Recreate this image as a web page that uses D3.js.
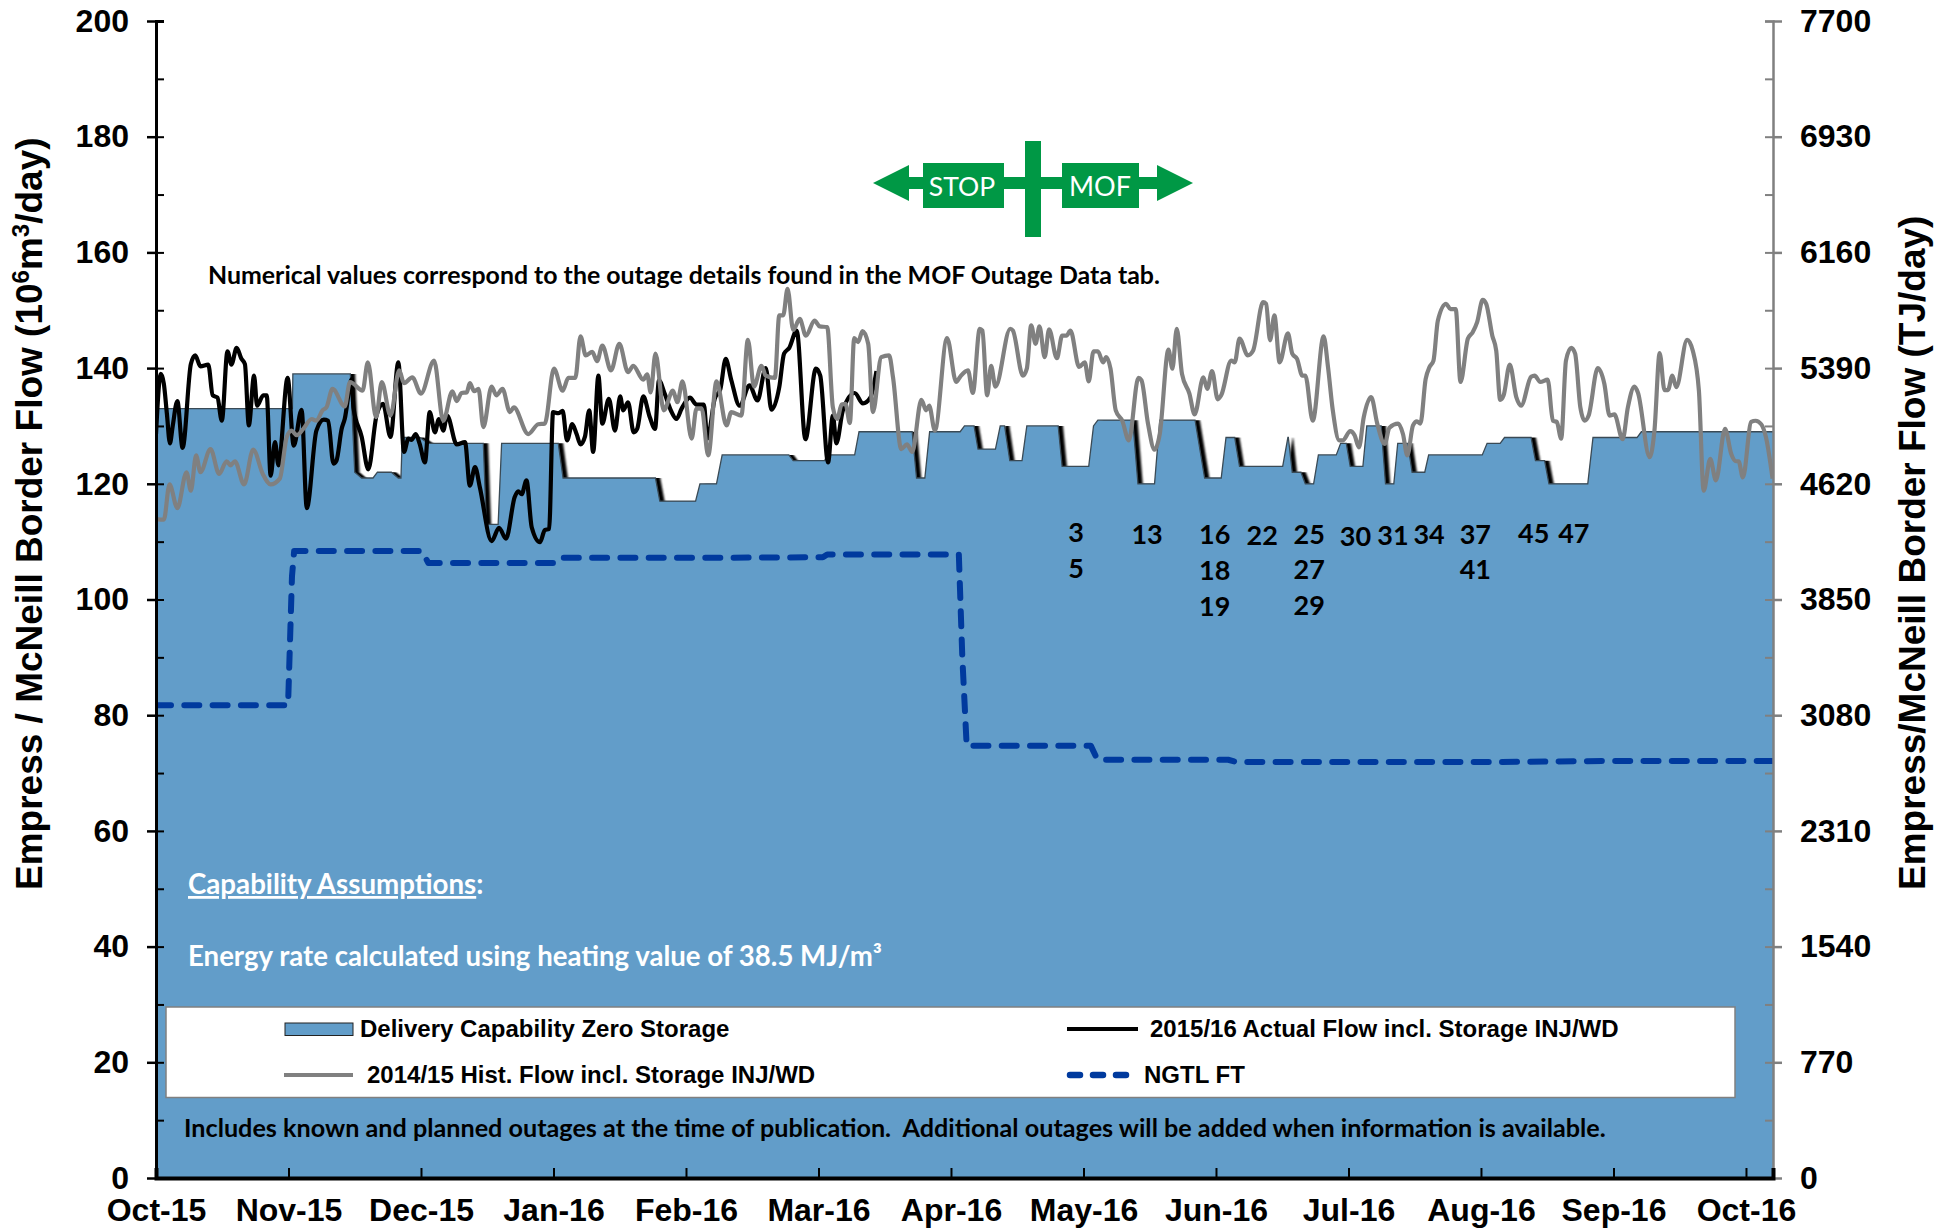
<!DOCTYPE html>
<html>
<head>
<meta charset="utf-8">
<title>Empress / McNeill Border Flow</title>
<script src="https://d3js.org/d3.v7.min.js"></script>
<style>
  body { margin: 0; background: #fff; }
  text { font-family: "Liberation Sans", Arial, sans-serif; font-weight: bold; fill: #000; }
  text.note { font-family: Lato, "Noto Sans", sans-serif; }
  .tick text { font-size: 32px; font-family: "Liberation Sans", Arial, sans-serif; font-weight: bold; fill: #000; }
</style>
</head>
<body>
<svg id="chart" width="1956" height="1228"></svg>
<script>
// all series are [day since Oct-15, 10^6 m3/day]
const monthLabels = ["Oct-15","Nov-15","Dec-15","Jan-16","Feb-16","Mar-16","Apr-16","May-16","Jun-16","Jul-16","Aug-16","Sep-16","Oct-16"];
const leftTicks = [0,20,40,60,80,100,120,140,160,180,200];
const leftMinorTicks = [0,10,20,30,40,50,60,70,80,90,100,110,120,130,140,150,160,170,180,190,200];
const rightTicks = [0,770,1540,2310,3080,3850,4620,5390,6160,6930,7700];
const rightMinorTicks = [0,385,770,1155,1540,1925,2310,2695,3080,3465,3850,4235,4620,5005,5390,5775,6160,6545,6930,7315,7700];

const capability = [[0,133],[31.3,133],[31.4,139],[44.6,139],[45.6,122],[47.2,121],[49.8,121],[50.8,122],[54,122],[55.6,121],[56.2,121],[56.5,128],[60.5,128],[62.5,127],[75.1,127],[75.8,113],[78.5,113],[79.3,127],[92.3,127],[93.4,121],[114.6,121],[115.6,117],[123.8,117],[124.8,120],[128.6,120],[129.9,125],[145.2,125],[146.2,124],[153.4,124],[154,125],[160.3,125],[161.3,129],[173.5,129],[174.5,121],[176.4,121],[177.5,129],[184.5,129],[185.5,130],[187.7,130],[188.6,126],[192.6,126],[193.7,130],[194.7,130],[195.9,124],[198.7,124],[199.8,130],[207,130],[207.9,123],[214,123],[215.1,130],[216.1,131],[224.1,131],[225.3,120],[229.1,120],[230.3,131],[238.4,131],[240.6,121],[244.4,121],[245.5,128],[247.5,128],[248.6,123],[258.5,123],[259.7,128],[259.8,128],[260.7,122],[262.7,122],[263.7,120],[265.6,120],[266.7,125],[270.8,125],[271.8,127],[273.1,127],[274,123],[276.9,123],[277.8,130],[281.1,130],[282.1,120],[284,120],[284.9,127],[287.2,127],[288.2,122],[291.1,122],[292,125],[304.3,125],[305.4,127],[308.4,127],[309.4,128],[315.5,128],[316.5,124],[318.6,124],[319.6,120],[328.5,120],[329.7,128],[339.8,128],[340.8,129],[371,129]];

const actualFlow = [[0,128.6],[1.1,139],[1.8,137.3],[2.5,132.1],[3.2,127],[3.8,129.8],[4.9,134.3],[6.1,126.2],[8,140.7],[9,142.2],[10.2,140.3],[12,140.6],[13,135.3],[14.1,134.9],[15.1,130.9],[16.4,142.9],[17.3,140.6],[18.5,143.5],[19.6,141.6],[20.4,140.7],[21.3,130.1],[22.5,138.7],[23.2,133.5],[24.6,135.3],[25.4,135.3],[26.3,121.4],[27.3,127.2],[28.1,123.2],[30.2,138.3],[31.6,126.6],[33.4,132.8],[34.6,115.8],[36.8,129.2],[38.5,131.1],[39.5,130.9],[40.7,123.5],[41.4,124],[42.6,129.5],[43.3,131.2],[44.9,138.1],[45.3,133.2],[47.2,128.1],[48.7,122.5],[50.6,131.8],[52.1,133.8],[53.8,128.1],[55.6,141],[56.9,125.5],[57.9,127.8],[58.6,127.6],[59.6,128.6],[60.5,126.9],[61.7,123.7],[62.8,132.4],[64,128.9],[64.9,131.2],[65.9,129.2],[66.8,131.8],[69,126.8],[70.9,127.2],[72,119.7],[73.2,122.9],[74.3,119.4],[77,110.1],[78.7,112.4],[80.3,110.5],[82.3,117.7],[83.1,118.7],[83.9,118.2],[85,120.6],[86.2,112.5],[88.1,109.9],[89.2,112],[90.2,112.2],[91.1,132.4],[92.3,132.2],[93.3,132.6],[94.3,127.5],[95.5,130.3],[96.5,128.6],[97.4,126.8],[98.4,128.1],[99.4,132.7],[100.3,125.5],[101.5,138.7],[102.4,130.4],[103.9,134.7],[105.3,129.2],[106.5,135.1],[107.2,132.7],[108.3,134.1],[109.6,128.9],[110.4,129.5],[111.8,135.1],[113.3,131.5],[114.5,129.5],[115.4,137.9],[116.7,135.6],[118.3,132.4],[119.4,131.2],[120.6,133],[122.5,134.9],[124,133.7],[125.7,133.7],[126.5,127.8],[128.2,134.7],[129.5,136.4],[130.7,141.6],[132,137.9],[133.9,133.5],[136.2,137],[138,134.4],[139.9,140],[141.2,132.8],[143,136.7],[144.1,142.5],[145.3,143.5],[147,146.5],[149,127.7],[151.4,139.9],[152.4,138.7],[154.2,123.7],[155.3,131.8],[156.1,127],[157.6,132.7],[160.3,135.7],[162.2,133.9],[163.9,134.9],[165.3,139.5]];

const histFlow = [[0,113.9],[1.8,113.8],[3.1,119.9],[4.9,115.8],[7,122],[8,118.8],[9.2,124.9],[10.2,122],[12.5,126],[14.5,121.7],[16.2,123.9],[17.1,123.2],[18.1,123.9],[20.2,119.9],[22.3,125.9],[24.5,121.7],[26.3,119.9],[28.4,120.9],[30,128.1],[31.1,129.2],[32.3,128.4],[33.8,129.5],[35.7,131.2],[36.8,130.9],[38.2,132.7],[39.1,133.2],[40.5,136.4],[43.3,133.4],[44.5,137.6],[47.4,136.1],[48.6,141],[50.5,131.5],[51.8,137.6],[53.8,131.8],[55.8,139.6],[56.9,137.4],[58.8,138.4],[60.8,135.6],[63.8,141.3],[65.9,130.9],[68,136],[69,134.3],[70.1,135.7],[71.3,135.8],[72,137.4],[73,136],[74,136.4],[75.1,129.8],[77,136.8],[78.1,135.3],[79.5,136.4],[81.2,132.4],[82.1,133.2],[85.4,128.6],[87.7,130.3],[89.2,130.4],[91.3,139.9],[93.3,136.1],[94.6,138.3],[96.2,138.3],[97.4,145.5],[98.6,142.2],[100.1,142.8],[101.2,141.2],[102.4,143.9],[104.4,139.6],[106.3,144.2],[108.3,139.3],[109.5,140.4],[111.8,138],[112.7,138.9],[113.5,135.8],[114.6,142.5],[116.5,132.7],[118.6,136.1],[119.6,134.1],[120.8,137.7],[122.9,127.8],[124,133],[125.2,133],[126.7,124.9],[128.6,137.7],[130.9,130.1],[132,132.4],[134.3,131.8],[135.8,144.9],[137.2,136.8],[138.9,140.4],[139.9,138.7],[142,138.3],[143,149.1],[143.9,149.1],[144.9,153.7],[146.2,146.6],[147.7,148.5],[149.1,145.6],[151.1,148.2],[152.3,147.2],[154,147.1],[155.3,133.2],[156.3,131.2],[157.3,133.7],[158.2,133.8],[159.2,130.5],[160.2,145.2],[161.1,144.5],[162.1,146.4],[163.4,144.2],[164.5,132.4],[166.4,141.9],[168.2,142.2],[169.1,138.4],[171,126],[172.3,126.8],[173.5,125.5],[175.6,134.5],[176.7,132.7],[177.4,133.5],[178.7,129.2],[181.5,145.2],[183.6,137.6],[184.5,138.5],[186.3,139.6],[187.4,135.7],[189,146.8],[189.6,146.5],[190.7,135.3],[191.6,140.4],[192.6,136.8],[196,146.8],[196.6,146.5],[198.9,138.7],[199.8,139.9],[200.8,147.4],[201.8,144.2],[202.7,147.2],[203.9,141.9],[204.9,146.7],[206.7,141.7],[207.9,145.6],[208.9,145.6],[209.8,146.5],[211.8,140.2],[213.1,141],[214,137.7],[215.1,142.9],[216.1,142.9],[217.3,141],[218,141.9],[219,139.9],[220.2,132.7],[221.7,130.9],[223.2,127.5],[225.4,138.3],[226.1,137.9],[227.6,130.4],[229.1,125.9],[230.3,128.6],[232.3,143.2],[233.2,139.9],[234.2,146.8],[235.4,139],[237.1,135.6],[238.3,132],[240.3,138.4],[241.2,136.4],[242.3,139.5],[243.6,134.6],[244.4,135.3],[246.7,141.3],[247.5,141],[248.6,145.1],[250.5,142.2],[251.7,143],[254,151.4],[254.7,151.1],[255.6,144.8],[256.6,149.1],[257.8,141],[259.7,146],[260.7,142.5],[261.8,141.6],[263,138.7],[263.7,138.7],[265.4,130.9],[267.9,145.5],[268.9,140.2],[270,132.7],[271.5,127.5],[272.3,127.5],[274,129.1],[275,128.4],[276,126.3],[277.1,131.5],[278.8,135],[280.2,130.4],[281.9,126.9],[283,129.7],[285,130.4],[286.1,128.6],[287.1,124.9],[288.4,130.1],[289.3,130.8],[290.1,130.4],[291.3,138.1],[292.2,140.2],[293.1,141.3],[294.1,148.2],[296,151.1],[297,150.2],[298.2,150.2],[299.3,137.6],[301,145.1],[302.1,146.2],[303.1,147.9],[304.4,151.8],[305.2,151.1],[306.6,145.6],[307.5,143],[308.4,134.5],[309.2,135.3],[310.6,140.6],[312.1,135],[313.2,133.5],[315.5,138.5],[316.3,138.7],[317.6,137.6],[319.3,138],[320.5,130.9],[321.4,130.7],[322.4,127.8],[323.5,141.3],[324.7,143.5],[325.6,142.5],[326.8,133.2],[327.8,130.9],[328.7,131.8],[330.8,140],[332.3,137.3],[333.5,131.8],[334.6,132],[336.5,127.7],[337.7,133.2],[339.2,136.8],[340,135.8],[342.7,124.6],[343.8,129.2],[345,142.6],[346.1,136.2],[346.9,136.2],[347.9,138.7],[348.8,136.7],[351.3,144.9],[352.6,143],[354,136.1],[355.1,118.8],[356.6,124.3],[357.9,120.6],[360,129.5],[361.4,125.2],[362.5,123.9],[363.1,123.9],[364.1,121.1],[366,130.7],[367,130.9],[368.3,130.3],[369.4,128],[370.9,120.9]];

const ngtlFT = [[0,81.7],[30.3,81.7],[31.2,104],[31.7,108.4],[61,108.4],[62.5,106.3],[92.5,106.3],[93.5,107.2],[122,107.2],[153,107.3],[154,107.8],[184.2,107.8],[185,90],[186,74.7],[214.5,74.7],[216,72.3],[246,72.3],[248,71.9],[306,71.9],[335,72.1],[371,72.1]];

// outage numbers: [day, value, label]
const outageLabels = [[211.1,111.8,"3"],[211.1,105.6,"5"],[227.4,111.4,"13"],[242.9,111.4,"16"],[242.9,105.1,"18"],[242.9,98.9,"19"],[253.8,111.3,"22"],[264.6,111.4,"25"],[264.6,105.3,"27"],[264.6,99.1,"29"],[275.2,111,"30"],[283.8,111.2,"31"],[292.1,111.4,"34"],[302.7,111.4,"37"],[302.7,105.3,"41"],[316.1,111.6,"45"],[325.3,111.6,"47"]];

const svg = d3.select("#chart");
const plot = {left: 156, right: 1773, top: 21, bottom: 1178};

const x = d3.scaleLinear([0, 371], [plot.left, plot.right]);
const y = d3.scaleLinear([0, 200], [plot.bottom, plot.top]);
const yRight = d3.scaleLinear([0, 7700], [plot.bottom, plot.top]);

svg.append("defs").append("clipPath").attr("id", "plotClip")
    .append("rect").attr("x", plot.left).attr("y", plot.top)
    .attr("width", plot.right - plot.left).attr("height", plot.bottom - plot.top);
const blur = svg.select("defs").append("filter").attr("id", "edgeBlur")
    .attr("x", "-2%").attr("width", "104%");
blur.append("feGaussianBlur").attr("stdDeviation", "0.9 0");

const area = d3.area().x(d => x(d[0])).y0(y(0)).y1(d => y(d[1]));
const line = d3.line().x(d => x(d[0])).y(d => y(d[1]));
const smooth = d3.line().x(d => x(d[0])).y(d => y(d[1])).curve(d3.curveMonotoneX);

const chartArea = svg.append("g").attr("clip-path", "url(#plotClip)");

// black edge that peeks out on the falling ramps of the capability area
chartArea.append("path").datum(capability)
    .attr("d", area).attr("fill", "#000")
    .attr("filter", "url(#edgeBlur)")
    .attr("transform", "translate(" + (x(1) - x(0)) * 1.1 + ",0)");

chartArea.append("path").datum(capability)
    .attr("d", area).attr("fill", "#629DC9");
chartArea.append("path").datum(capability)
    .attr("d", line).attr("fill", "none").attr("stroke", "#3a4a55").attr("stroke-width", 1.3);

chartArea.append("path").datum(ngtlFT)
    .attr("d", line).attr("fill", "none").attr("stroke", "#003A9E")
    .attr("stroke-width", 6).attr("stroke-linecap", "round").attr("stroke-linejoin", "round")
    .attr("stroke-dasharray", "15 13.3");

chartArea.append("path").datum(actualFlow)
    .attr("d", smooth).attr("fill", "none").attr("stroke", "#000")
    .attr("stroke-width", 4.2).attr("stroke-linejoin", "round");
chartArea.append("path").datum(histFlow)
    .attr("d", smooth).attr("fill", "none").attr("stroke", "#808080")
    .attr("stroke-width", 4.2).attr("stroke-linejoin", "round");

// left axis
svg.append("g").attr("transform", "translate(" + plot.left + ",0)")
    .call(d3.axisLeft(y).tickValues(leftMinorTicks).tickSize(-8).tickFormat(""))
    .call(g => g.selectAll("line").attr("stroke", "#000").attr("stroke-width", 2))
    .call(g => g.select(".domain").attr("stroke", "#000").attr("stroke-width", 3));
svg.append("g").attr("transform", "translate(" + plot.left + ",0)")
    .call(d3.axisLeft(y).tickValues(leftTicks).tickSize(9).tickPadding(18))
    .call(g => g.select(".domain").remove())
    .call(g => g.selectAll("line").attr("stroke", "#000").attr("stroke-width", 2.5));

// right axis
svg.append("g").attr("transform", "translate(" + plot.right + ",0)")
    .call(d3.axisRight(yRight).tickValues(rightMinorTicks).tickSize(-8).tickFormat(""))
    .call(g => g.selectAll("line").attr("stroke", "#808080").attr("stroke-width", 2))
    .call(g => g.select(".domain").attr("stroke", "#808080").attr("stroke-width", 2.5));
svg.append("g").attr("transform", "translate(" + plot.right + ",0)")
    .call(d3.axisRight(yRight).tickValues(rightTicks).tickSize(9).tickPadding(18).tickFormat(d3.format("d")))
    .call(g => g.select(".domain").remove())
    .call(g => g.selectAll("line").attr("stroke", "#808080").attr("stroke-width", 2.5));

// bottom axis, months are 30.4 days apart on the original
const monthAt = d3.scaleOrdinal(monthLabels.map((d, i) => i * 30.4), monthLabels);
svg.append("g").attr("transform", "translate(0," + plot.bottom + ")")
    .call(d3.axisBottom(x).tickValues(monthAt.domain()).tickSize(-10).tickPadding(20)
        .tickFormat(d => monthAt(d)))
    .call(g => g.selectAll("line").attr("stroke", "#000").attr("stroke-width", 2))
    .call(g => g.select(".domain").attr("stroke", "#000").attr("stroke-width", 4));

// axis titles
const leftTitle = svg.append("text")
    .attr("transform", "translate(42,890) rotate(-90)")
    .attr("font-size", 37);
leftTitle.append("tspan").text("Empress / McNeill Border Flow (10");
leftTitle.append("tspan").text("6").attr("font-size", 24).attr("dy", -13);
leftTitle.append("tspan").text("m").attr("dy", 13);
leftTitle.append("tspan").text("3").attr("font-size", 24).attr("dy", -13);
leftTitle.append("tspan").text("/day)").attr("dy", 13);

svg.append("text")
    .attr("transform", "translate(1925,890) rotate(-90)")
    .attr("font-size", 37)
    .text("Empress/McNeill Border Flow (TJ/day)");

// STOP / MOF sign
const sign = svg.append("g").attr("fill", "#009845");
const signY = 183;
sign.append("rect").attr("x", 905).attr("y", signY - 6).attr("width", 252).attr("height", 12);
sign.append("path").attr("d", d3.line()([[873, signY], [909, signY - 18], [909, signY + 18]]));
sign.append("path").attr("d", d3.line()([[1193, signY], [1157, signY - 18], [1157, signY + 18]]));
sign.append("rect").attr("x", 923).attr("y", 163).attr("width", 81).attr("height", 45);
sign.append("rect").attr("x", 1062).attr("y", 163).attr("width", 77).attr("height", 45);
sign.append("rect").attr("x", 1025).attr("y", 141).attr("width", 16).attr("height", 96);
svg.append("text").attr("x", 962).attr("y", 196).attr("text-anchor", "middle")
    .attr("class", "note").attr("font-size", 26.5).style("font-weight", "normal").style("fill", "#fff").text("STOP");
svg.append("text").attr("x", 1100).attr("y", 196).attr("text-anchor", "middle")
    .attr("class", "note").attr("font-size", 27).style("font-weight", "normal").style("fill", "#fff").text("MOF");

// notes
svg.append("text").attr("class", "note").attr("x", 208).attr("y", 284).attr("font-size", 24.9)
    .text("Numerical values correspond to the outage details found in the MOF Outage Data tab.");
const capNote = svg.append("text").attr("class", "note").attr("x", 188).attr("y", 894).attr("font-size", 27.7)
    .style("fill", "#fff");
capNote.append("tspan").style("text-decoration", "underline").text("Capability Assumptions");
capNote.append("tspan").text(":");
svg.append("text").attr("class", "note").attr("x", 188).attr("y", 966).attr("font-size", 27.6)
    .style("fill", "#fff").text("Energy rate calculated using heating value of 38.5 MJ/m³");
svg.append("text").attr("class", "note").attr("x", 184).attr("y", 1137).attr("font-size", 25.2)
    .style("white-space", "pre")
    .text("Includes known and planned outages at the time of publication.  Additional outages will be added when information is available.");

svg.append("g").selectAll("text").data(outageLabels).join("text")
    .attr("class", "note").attr("x", d => x(d[0])).attr("y", d => y(d[1]))
    .attr("text-anchor", "middle").attr("dominant-baseline", "central")
    .attr("font-size", 27).text(d => d[2]);

// legend
const legend = svg.append("g");
legend.append("rect").attr("x", 166).attr("y", 1007).attr("width", 1569).attr("height", 90.5)
    .attr("fill", "#fff").attr("stroke", "#808080").attr("stroke-width", 1.5);
legend.append("rect").attr("x", 285).attr("y", 1023).attr("width", 68).attr("height", 12.5)
    .attr("fill", "#629DC9").attr("stroke", "#222").attr("stroke-width", 1);
legend.append("line").attr("x1", 284).attr("x2", 353).attr("y1", 1075).attr("y2", 1075)
    .attr("stroke", "#808080").attr("stroke-width", 4);
legend.append("line").attr("x1", 1067).attr("x2", 1138).attr("y1", 1029).attr("y2", 1029)
    .attr("stroke", "#000").attr("stroke-width", 4);
legend.append("line").attr("x1", 1070).attr("x2", 1137).attr("y1", 1075).attr("y2", 1075)
    .attr("stroke", "#003A9E").attr("stroke-width", 6.5).attr("stroke-linecap", "round")
    .attr("stroke-dasharray", "10 13");
legend.append("text").attr("x", 360).attr("y", 1037).attr("font-size", 24).text("Delivery Capability Zero Storage");
legend.append("text").attr("x", 367).attr("y", 1083).attr("font-size", 24).text("2014/15 Hist. Flow incl. Storage INJ/WD");
legend.append("text").attr("x", 1150).attr("y", 1037).attr("font-size", 24).text("2015/16 Actual Flow incl. Storage INJ/WD");
legend.append("text").attr("x", 1144).attr("y", 1083).attr("font-size", 24).text("NGTL FT");
</script>
</body>
</html>
